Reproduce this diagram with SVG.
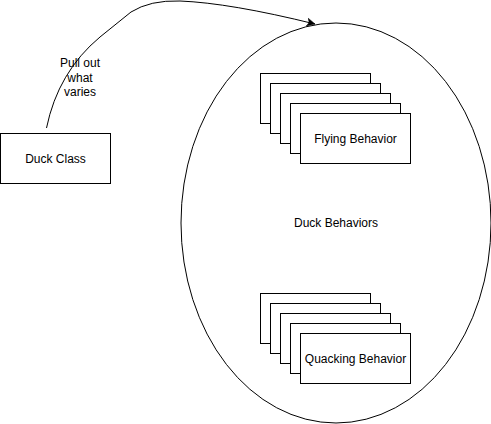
<svg xmlns="http://www.w3.org/2000/svg" width="491" height="424" viewBox="0 0 491 424">
<defs>
<style>
.s{fill:#fff;stroke:#000;stroke-width:1}
.t{font-family:"Liberation Sans",Arial,sans-serif;font-size:12px;fill:#000;text-anchor:middle}
.c{fill:none;stroke:#000;stroke-width:1}
</style>
<marker id="arr" markerWidth="10" markerHeight="10" refX="8" refY="4" orient="auto" markerUnits="userSpaceOnUse" viewBox="0 0 10 8">
<path d="M0,0 L8,4 L0,8 L2,4 Z" fill="#000" stroke="#000" stroke-width="0.5"/>
</marker>
</defs>
<rect width="491" height="424" fill="#fff"/>
<g id="duck-behaviors">
<ellipse class="s" cx="336" cy="223" rx="155" ry="200"/>
<text class="t" x="336" y="227">Duck Behaviors</text>
</g>
<g id="duck-class">
<rect class="s" x="0.5" y="133.5" width="110" height="50"/>
<text class="t" x="55.5" y="162.5">Duck Class</text>
</g>
<g id="flying-behavior">
<rect class="s" x="260.5" y="73.5" width="110" height="50"/>
<rect class="s" x="270.5" y="83.5" width="110" height="50"/>
<rect class="s" x="280.5" y="93.5" width="110" height="50"/>
<rect class="s" x="290.5" y="103.5" width="110" height="50"/>
<rect class="s" x="300.5" y="113.5" width="110" height="50"/>
<text class="t" x="355.5" y="142.5">Flying Behavior</text>
</g>
<g id="quacking-behavior">
<rect class="s" x="260.5" y="293.5" width="110" height="50"/>
<rect class="s" x="270.5" y="303.5" width="110" height="50"/>
<rect class="s" x="280.5" y="313.5" width="110" height="50"/>
<rect class="s" x="290.5" y="323.5" width="110" height="50"/>
<rect class="s" x="300.5" y="333.5" width="110" height="50"/>
<text class="t" x="355.5" y="362.5">Quacking Behavior</text>
</g>
<g id="connectors">
<path class="c" d="M46.5,128 Q58,72 100,37 L131,12 Q150,0 180,1 Q230,3 315,24" marker-end="url(#arr)"/>
<text class="t" x="80" y="67">Pull out</text>
<text class="t" x="80" y="82">what</text>
<text class="t" x="80" y="96">varies</text>
</g>
</svg>
